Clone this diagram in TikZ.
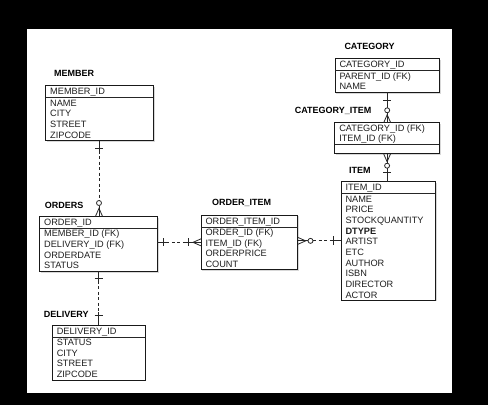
\documentclass[tikz,border=0pt]{standalone}
\usepackage{fontspec}
\setmainfont{Liberation Sans}
\usetikzlibrary{calc,shadows}
\tikzset{
  entbox/.style={draw=black!90, line width=0.8pt, fill=white, anchor=north west, inner sep=0pt, outer sep=0pt,
    drop shadow={shadow xshift=1.3pt, shadow yshift=-1.3pt, opacity=0.3}},
  etext/.style={font=\fontsize{9.2}{11}\selectfont, text=black!88, inner sep=0pt, anchor=base west},
  ttext/.style={font=\fontsize{9}{11}\selectfont\bfseries, inner sep=0pt, anchor=base west},
  conn/.style={draw=black!85, line width=0.8pt},
  dsh/.style={conn, dash pattern=on 3pt off 2.5pt},
  ring/.style={conn, fill=white},
}
\newcommand\erbox[6]{%
  \node[entbox, minimum width=#4pt, minimum height=#5pt] (#1) at (#2,#3) {};
  \draw[conn, line width=0.7pt] ($(#1.north west)+(0,#6)$) -- ($(#1.north east)+(0,#6)$);
}
\newcommand\errow[4]{%
  \node[etext] (#1-#2) at ($(#1.north west)+(4.3,#3)$) {#4};
}
\begin{document}
\begin{tikzpicture}[x=1pt,y=-1pt]
\useasboundingbox (0,0) rectangle (488,405);
\fill[black] (0,0) rectangle (488,405);
\fill[white] (27.3,29) rectangle (451.7,393.3);

% MEMBER
\node[ttext] (t-member) at (54,76.5) {MEMBER};
\erbox{member}{45.7}{85.7}{107.6}{55}{12}
\errow{member}{h}{9.2}{MEMBER\_ID}
\errow{member}{1}{20.6}{NAME}
\errow{member}{2}{31.27}{CITY}
\errow{member}{3}{41.94}{STREET}
\errow{member}{4}{52.61}{ZIPCODE}

% CATEGORY
\node[ttext] (t-category) at (344.3,49.9) {CATEGORY};
\erbox{category}{335}{58.7}{104.4}{33.6}{11.6}
\errow{category}{h}{9.0}{CATEGORY\_ID}
\errow{category}{1}{20.6}{PARENT\_ID (FK)}
\errow{category}{2}{31.27}{NAME}

% CATEGORY_ITEM
\node[ttext] (t-catitem) at (294.7,113.9) {CATEGORY\_ITEM};
\erbox{catitem}{334.8}{122.7}{104.6}{31}{21.3}
\errow{catitem}{1}{8.4}{CATEGORY\_ID (FK)}
\errow{catitem}{2}{19.0}{ITEM\_ID (FK)}

% ITEM
\node[ttext] (t-item) at (349,173.2) {ITEM};
\erbox{item}{341}{181.7}{94.3}{118.3}{11.6}
\errow{item}{h}{9.0}{ITEM\_ID}
\errow{item}{1}{20.6}{NAME}
\errow{item}{2}{31.27}{PRICE}
\errow{item}{3}{41.94}{STOCKQUANTITY}
\errow{item}{4}{52.61}{\bfseries DTYPE}
\errow{item}{5}{63.28}{ARTIST}
\errow{item}{6}{73.95}{ETC}
\errow{item}{7}{84.62}{AUTHOR}
\errow{item}{8}{95.29}{ISBN}
\errow{item}{9}{105.96}{DIRECTOR}
\errow{item}{10}{116.3}{ACTOR}

% ORDERS
\node[ttext] (t-orders) at (44.7,208.2) {ORDERS};
\erbox{orders}{39.7}{216.3}{117.6}{55}{12.4}
\errow{orders}{h}{9.2}{ORDER\_ID}
\errow{orders}{1}{20.6}{MEMBER\_ID (FK)}
\errow{orders}{2}{31.27}{DELIVERY\_ID (FK)}
\errow{orders}{3}{41.94}{ORDERDATE}
\errow{orders}{4}{52.61}{STATUS}

% ORDER_ITEM
\node[ttext] (t-orderitem) at (212,205.2) {ORDER\_ITEM};
\erbox{orderitem}{201}{215}{96.7}{54.7}{12.3}
\errow{orderitem}{h}{9.1}{ORDER\_ITEM\_ID}
\errow{orderitem}{1}{20.6}{ORDER\_ID (FK)}
\errow{orderitem}{2}{31.27}{ITEM\_ID (FK)}
\errow{orderitem}{3}{41.94}{ORDERPRICE}
\errow{orderitem}{4}{52.61}{COUNT}

% DELIVERY
\node[ttext] (t-delivery) at (43.7,317.2) {DELIVERY};
\erbox{delivery}{52.3}{325}{92.7}{55}{12.3}
\errow{delivery}{h}{9.2}{DELIVERY\_ID}
\errow{delivery}{1}{20.6}{STATUS}
\errow{delivery}{2}{31.27}{CITY}
\errow{delivery}{3}{41.94}{STREET}
\errow{delivery}{4}{52.61}{ZIPCODE}

% MEMBER -- ORDERS
\coordinate (c1a) at ($(member.south)+(-0.5,0)$);
\coordinate (c1b) at (c1a |- orders.north);
\draw[conn] (c1a) -- ($(c1a)+(0,10)$);
\draw[dsh] ($(c1a)+(0,10)$) -- ($(c1b)+(0,-15.8)$);
\draw[conn] ($(c1a)+(-4,7.5)$) -- ($(c1a)+(4,7.5)$);
\draw[conn] ($(c1b)+(0,-10.8)$) -- (c1b);
\draw[conn] ($(c1b)+(-3.5,0)$) -- ($(c1b)+(0,-8)$) -- ($(c1b)+(3.5,0)$);
\draw[ring] ($(c1b)+(0,-13.3)$) circle[radius=2.5pt];

% ORDERS -- DELIVERY
\coordinate (c2a) at (orders.south);
\coordinate (c2b) at (orders.south |- delivery.north);
\draw[conn] (c2a) -- ($(c2a)+(0,9.5)$);
\draw[conn] ($(c2a)+(-4,6.7)$) -- ($(c2a)+(4,6.7)$);
\draw[dsh] ($(c2a)+(0,9.5)$) -- ($(c2b)+(0,-13)$);
\draw[conn] ($(c2b)+(0,-13)$) -- (c2b);
\draw[conn] ($(c2b)+(-4,-10)$) -- ($(c2b)+(4,-10)$);

% ORDERS -- ORDER_ITEM
\coordinate (c3a) at (orderitem.west -| orders.east);
\coordinate (c3b) at (orderitem.west);
\draw[conn] (c3a) -- ($(c3a)+(9,0)$);
\draw[conn] ($(c3a)+(5.7,-4)$) -- ($(c3a)+(5.7,4)$);
\draw[dsh] ($(c3a)+(9,0)$) -- ($(c3b)+(-16,0)$);
\draw[conn] ($(c3b)+(-16,0)$) -- (c3b);
\draw[conn] ($(c3b)+(-13,-4)$) -- ($(c3b)+(-13,4)$);
\draw[conn] ($(c3b)+(0,-3.5)$) -- ($(c3b)+(-8,0)$) -- ($(c3b)+(0,3.5)$);

% ORDER_ITEM -- ITEM
\coordinate (c4a) at (orderitem.east |- item.west);
\coordinate (c4b) at (item.west);
\draw[conn] (c4a) -- ($(c4a)+(10.3,0)$);
\draw[conn] ($(c4a)+(0,-3.5)$) -- ($(c4a)+(8,0)$) -- ($(c4a)+(0,3.5)$);
\draw[ring] ($(c4a)+(12.8,0)$) circle[radius=2.5pt];
\draw[dsh] ($(c4a)+(15.3,0)$) -- ($(c4b)+(-10,0)$);
\draw[conn] ($(c4b)+(-10,0)$) -- (c4b);
\draw[conn] ($(c4b)+(-8,-4.5)$) -- ($(c4b)+(-8,4.5)$);

% CATEGORY -- CATEGORY_ITEM
\coordinate (c5a) at (category.south);
\coordinate (c5b) at (category.south |- catitem.north);
\draw[conn] (c5a) -- (c5b);
\draw[conn] ($(c5a)+(-4,7.7)$) -- ($(c5a)+(4,7.7)$);
\draw[conn] ($(c5b)+(-3.5,0)$) -- ($(c5b)+(0,-8)$) -- ($(c5b)+(3.5,0)$);
\draw[ring] ($(c5a)+(0,18)$) circle[radius=2.5pt];

% CATEGORY_ITEM -- ITEM
\coordinate (c6a) at (catitem.south);
\coordinate (c6b) at (catitem.south |- item.north);
\draw[conn] (c6a) -- (c6b);
\draw[conn] ($(c6a)+(-3.5,0)$) -- ($(c6a)+(0,8)$) -- ($(c6a)+(3.5,0)$);
\draw[ring] ($(c6a)+(0,12)$) circle[radius=2.5pt];
\draw[conn] ($(c6a)+(-4,18.5)$) -- ($(c6a)+(4,18.5)$);
\end{tikzpicture}
\end{document}
